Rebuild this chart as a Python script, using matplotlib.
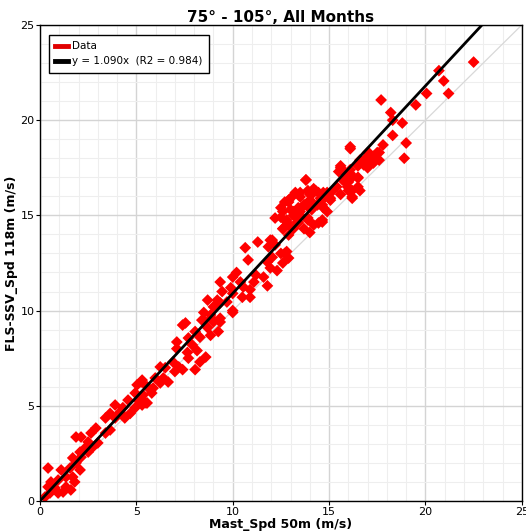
#!/usr/bin/env python3

import matplotlib
matplotlib.use('Agg')
import matplotlib.pyplot as plt
from matplotlib.ticker import MultipleLocator

# Mast speed at 50m (x) and FLS-SSV speed at 118m (y), m/s
mast_spd = [
    0.26, 0.52, 0.94, 0.42, 0.78, 1.2, 1.6, 1.35, 0.57, 0.94, 1.8, 1.7, 1.35,
    0.42, 1.1, 1.56, 2.08, 1.87, 1.7, 2.13, 2.5, 2.08, 2.34, 2.75, 3.0, 2.5,
    1.87, 2.13, 2.9, 2.65, 3.4, 3.64, 3.4, 3.9, 4.4, 3.64, 4.16, 3.9,
    4.3, 4.94, 4.68, 5.3, 4.57, 5.2, 5.56, 4.94, 5.35, 5.04, 5.56, 5.87, 6.24,
    5.3, 5.98, 6.4, 6.65, 5.5, 5.8, 5.25, 5.1,
    6.24, 6.5, 7.0, 7.4, 7.2, 6.9, 8.05, 8.3, 8.6, 7.7, 7.65, 8.15, 7.1, 7.9,
    7.1, 7.7, 8.3, 8.85, 9.25, 8.05, 8.7, 7.4, 7.55, 8.4, 9.35, 8.9, 8.5,
    9.35, 10.0,
    9.0, 8.5, 9.35, 8.85, 10.0, 9.0, 9.7, 9.2, 8.7, 10.9, 10.5, 10.0, 10.9,
    10.55, 9.9, 9.45, 10.4, 9.35, 10.0, 10.2, 11.8, 11.1, 11.2, 11.6, 12.3,
    11.95, 12.6, 11.8, 10.8, 12.05, 12.9, 12.8, 12.5, 10.65, 12.2, 11.95, 11.3,
    14.65, 14.0, 12.6, 13.0, 14.45, 13.9, 13.4, 12.8, 13.5, 13.15, 14.0, 12.9,
    12.5,
    13.15, 13.7, 14.2, 12.8, 13.4, 13.9, 14.65, 14.9, 14.7, 14.1, 13.7, 13.25,
    12.6, 13.0, 13.4, 13.7, 14.4, 14.0, 13.5, 14.1, 13.9, 13.25, 12.7, 13.0,
    13.8, 14.2, 14.55, 14.7, 14.9, 15.2, 15.07, 15.6, 16.2, 16.6, 16.2, 15.96,
    15.7, 16.0, 16.5, 16.2, 16.1, 15.85, 15.5, 15.6, 17.0, 16.5, 16.6, 17.3,
    16.9, 17.05, 16.1,
    12.9, 12.5, 12.2, 13.15, 13.5, 13.35, 13.9, 14.1, 14.3, 14.45, 14.0, 13.8,
    13.5, 14.8, 15.07, 14.65, 12.6, 12.9, 12.05, 11.85, 12.7, 15.4, 15.85,
    16.0, 16.2, 16.5, 15.6, 16.1, 16.5, 16.8, 17.0, 17.5, 17.6, 16.1,
    17.3, 17.3, 17.0, 17.6, 17.8, 18.9, 19.0, 18.3, 18.8, 18.3, 18.2, 17.7,
    19.5, 20.06, 21.2, 20.95, 20.7, 22.5,
]

fls_spd = [
    0.21, 0.42, 0.42, 0.74, 0.68, 0.47, 0.58, 0.74, 1.0, 1.1, 1.0, 1.26, 1.26,
    1.73, 1.63, 1.73, 1.63, 2.0, 2.26, 2.3, 2.57, 2.57, 2.78, 2.84, 3.05, 3.1,
    3.36, 3.36, 3.83, 3.57, 3.57, 3.73, 4.36, 4.36, 4.36, 4.6, 4.67, 5.04,
    4.9, 4.9, 4.6, 5.04, 5.3, 5.2, 5.15, 5.67, 5.57, 6.1, 6.0, 5.93, 6.2,
    6.35, 6.46, 6.46, 6.25, 5.15, 5.67, 6.25, 5.3,
    7.04, 7.0, 6.8, 6.9, 7.04, 7.3, 6.9, 7.3, 7.56, 7.5, 7.8, 7.9, 8.0, 8.2,
    8.35, 8.56, 8.6, 8.7, 8.9, 8.9, 9.1, 9.24, 9.35, 9.5, 9.4, 9.6, 9.9,
    10.4, 9.9,
    9.4, 9.5, 9.6, 9.77, 10.0, 10.2, 10.45, 10.55, 10.55, 10.7, 10.7, 10.9,
    11.1, 11.24, 11.2, 11.0, 11.5, 11.5, 11.76, 12.0, 11.3, 11.5, 11.87, 11.76,
    12.1, 12.24, 12.5, 12.55, 12.66, 12.8, 12.76, 13.1, 13.0, 13.3, 13.45,
    13.7, 13.6,
    14.76, 14.1, 14.3, 14.4, 14.6, 14.86, 14.65, 14.76, 15.2, 15.0, 15.7,
    15.7, 15.4,
    14.3, 14.3, 14.5, 14.65, 14.6, 14.76, 14.65, 15.2, 15.4, 15.3, 15.55,
    15.0, 15.2, 15.3, 15.4, 15.55, 15.55, 15.8, 15.97, 16.1, 16.3, 16.2,
    15.7, 15.9, 16.86, 16.4, 15.9, 16.2, 16.2, 16.3, 15.8, 16.1, 15.97, 16.3,
    16.3, 16.5, 16.86, 16.75, 16.96, 17.0, 17.4, 17.2, 17.3, 17.6, 17.5,
    17.6, 17.9, 17.8, 18.0, 18.3, 18.5,
    15.8, 14.9, 14.86, 15.2, 15.0, 14.65, 15.45, 15.7, 16.3, 16.2, 16.1, 16.86,
    16.2, 15.97, 15.9, 15.55, 14.3, 13.97, 13.7, 13.35, 13.0, 16.5, 16.75,
    16.3, 15.9, 16.5, 17.5, 17.2, 17.0, 17.65, 17.9, 18.3, 17.9, 18.6,
    17.75, 18.1, 18.3, 18.3, 18.7, 18.0, 18.8, 19.2, 19.85, 20.0, 20.4, 21.06,
    20.8, 21.4, 21.4, 22.06, 22.6, 23.05,
]

slope = 1.090
r2 = 0.984
axis_max = 25

fig = plt.figure(figsize=(5.26, 5.31), dpi=100)
ax = fig.add_axes([0.076, 0.0565, 0.916, 0.8965])

# grid: major every 5, minor every 1
ax.xaxis.set_major_locator(MultipleLocator(5))
ax.yaxis.set_major_locator(MultipleLocator(5))
ax.xaxis.set_minor_locator(MultipleLocator(1))
ax.yaxis.set_minor_locator(MultipleLocator(1))
ax.grid(True, which='major', color='#d4d4d4', linewidth=1.0, zorder=0)
ax.grid(True, which='minor', color='#eeeeee', linewidth=0.8, zorder=0)
ax.set_axisbelow(True)

# 1:1 reference line
ax.plot([0, axis_max], [0, axis_max], color='#d8d8d8', linewidth=0.9, zorder=1)

ax.scatter(mast_spd, fls_spd, marker='D', s=36, color='#ff0000',
           edgecolors='none', zorder=2)

# regression line through origin
x_end = axis_max / slope
ax.plot([0, x_end], [0, slope * x_end], color='black', linewidth=2.0, zorder=3)

ax.set_xlim(0, axis_max)
ax.set_ylim(0, axis_max)

# legend proxies
ax.plot([], [], color='#e00000', linewidth=3.5, label='Data')
ax.plot([], [], color='black', linewidth=3.5,
        label=f'y = {slope:.3f}x  (R2 = {r2:.3f})')
leg = ax.legend(loc='upper left', fontsize=7.5, handlelength=1.2,
                handletextpad=0.4, borderpad=0.6, labelspacing=0.5,
                fancybox=False, framealpha=1.0, edgecolor='black',
                bbox_to_anchor=(0.008, 0.99))
leg.get_frame().set_linewidth(1.0)

ax.set_title('75\u00b0 - 105\u00b0, All Months', fontsize=11,
             fontweight='bold', pad=1)
ax.set_xlabel('Mast_Spd 50m (m/s)', fontsize=9, fontweight='bold',
              labelpad=1)
ax.set_ylabel('FLS-SSV_Spd 118m (m/s)', fontsize=9, fontweight='bold')
ax.yaxis.set_label_coords(-0.046, 0.5)

ax.tick_params(which='major', labelsize=8, length=3, pad=1)
ax.tick_params(which='minor', length=0)
for side in ['left', 'bottom', 'top', 'right']:
    ax.spines[side].set_color('black')
    ax.spines[side].set_linewidth(1.0)

plt.savefig('out.png', dpi=100)
print('Plot saved to out.png')
